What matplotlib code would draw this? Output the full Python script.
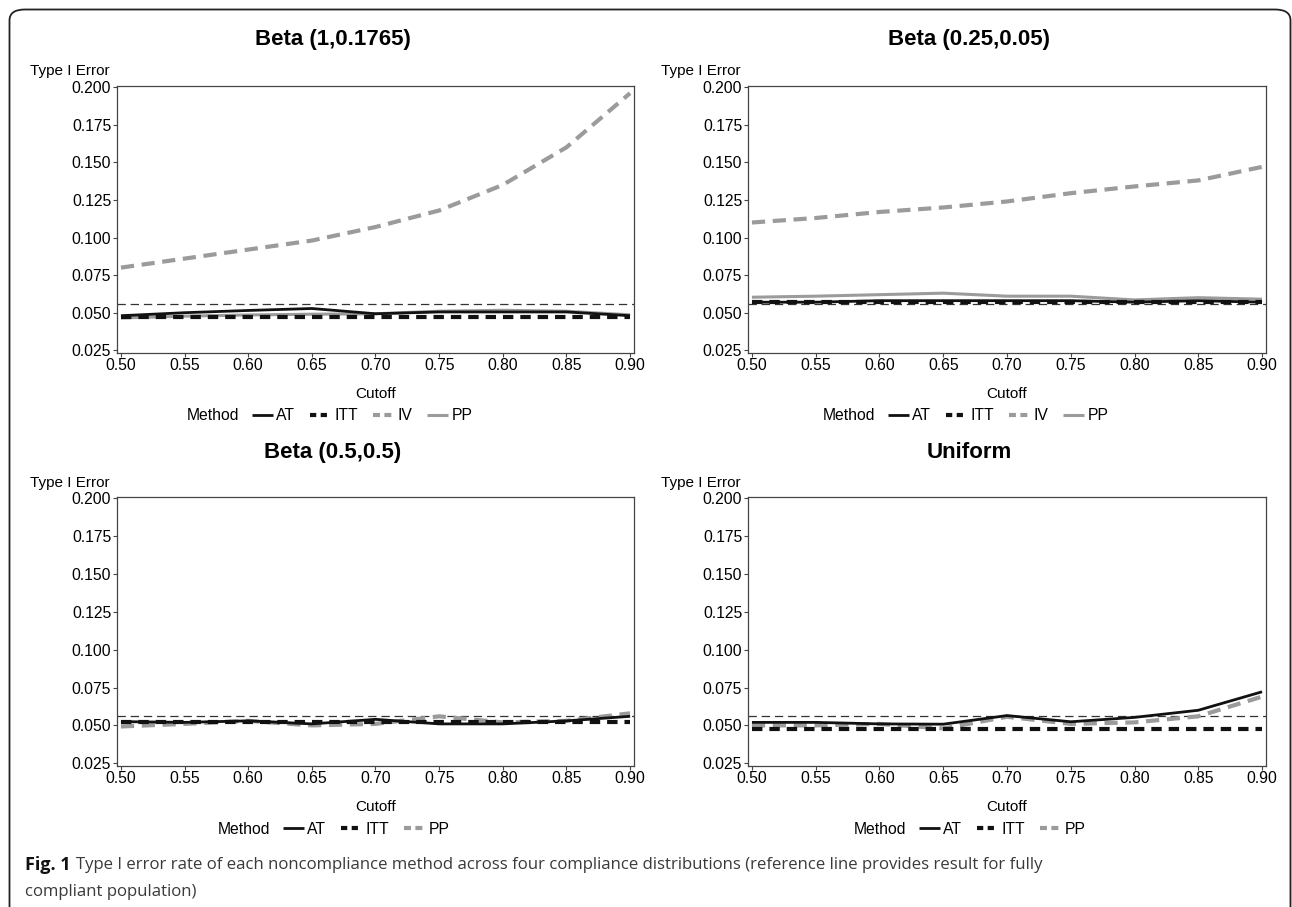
import matplotlib
matplotlib.use("Agg")
import matplotlib.pyplot as plt
from matplotlib.lines import Line2D
from matplotlib.patches import FancyBboxPatch

plt.rcParams['font.family'] = ['Liberation Sans', 'DejaVu Sans']
plt.rcParams['lines.scale_dashes'] = False

W, H = 1292, 907

# data
cutoff = [0.50, 0.55, 0.60, 0.65, 0.70, 0.75, 0.80, 0.85, 0.90]
ref_value = 0.056

# Beta (1,0.1765)
b1_at = [0.048, 0.050, 0.0515, 0.0528, 0.0493, 0.0505, 0.0505, 0.0505, 0.048]
b1_itt = [0.047, 0.047, 0.047, 0.047, 0.047, 0.047, 0.047, 0.047, 0.047]
b1_iv = [0.080, 0.086, 0.092, 0.098, 0.107, 0.118, 0.135, 0.160, 0.196]
b1_pp = [0.0465, 0.0477, 0.0485, 0.049, 0.0493, 0.051, 0.0516, 0.051, 0.0486]

# Beta (0.25,0.05)
b2_at = [0.057, 0.057, 0.058, 0.058, 0.058, 0.058, 0.057, 0.058, 0.057]
b2_itt = [0.0572, 0.0572, 0.0572, 0.0572, 0.0572, 0.0572, 0.0572, 0.0572, 0.0572]
b2_iv = [0.110, 0.113, 0.117, 0.120, 0.124, 0.1295, 0.134, 0.138, 0.147]
b2_pp = [0.0603, 0.061, 0.062, 0.063, 0.061, 0.061, 0.0585, 0.060, 0.059]

# Beta (0.5,0.5)
b3_at = [0.0525, 0.052, 0.053, 0.051, 0.054, 0.051, 0.051, 0.053, 0.056]
b3_itt = [0.052, 0.052, 0.052, 0.052, 0.052, 0.052, 0.052, 0.052, 0.052]
b3_pp = [0.0493, 0.051, 0.053, 0.050, 0.051, 0.056, 0.052, 0.053, 0.058]

# Uniform
u_at = [0.052, 0.052, 0.051, 0.0508, 0.0565, 0.0524, 0.0553, 0.060, 0.0722]
u_itt = [0.0477, 0.0477, 0.0477, 0.0477, 0.0477, 0.0477, 0.0477, 0.0477, 0.0477]
u_pp = [0.050, 0.050, 0.051, 0.048, 0.0557, 0.051, 0.052, 0.056, 0.069]

yticks = [0.025, 0.050, 0.075, 0.100, 0.125, 0.150, 0.175, 0.200]

GREY = '#9b9b9b'
styles = {
    'AT': dict(color='#111111', lw=2.0, ls='-'),
    'ITT': dict(color='#111111', lw=3.0, dashes=(7.5, 5.0)),
    'IV': dict(color=GREY, lw=3.0, dashes=(9.5, 5.5)),
    'PP': dict(color=GREY, lw=2.2, ls='-'),
    'PPd': dict(color=GREY, lw=3.0, dashes=(9.5, 5.5)),
}
# shorter dashes for the legend keys
legend_dashes = {'ITT': (4.5, 3.2), 'IV': (5.0, 3.2), 'PPd': (5.0, 3.2)}

panels = [
    ('Beta (1,0.1765)', [('AT', b1_at, 'AT'), ('ITT', b1_itt, 'ITT'), ('IV', b1_iv, 'IV'), ('PP', b1_pp, 'PP')],
     (117, 86, 634, 353), 333),
    ('Beta (0.25,0.05)', [('AT', b2_at, 'AT'), ('ITT', b2_itt, 'ITT'), ('IV', b2_iv, 'IV'), ('PP', b2_pp, 'PP')],
     (748, 86, 1266, 353), 969),
    ('Beta (0.5,0.5)', [('AT', b3_at, 'AT'), ('ITT', b3_itt, 'ITT'), ('PP', b3_pp, 'PPd')],
     (117, 497, 634, 766), 333),
    ('Uniform', [('AT', u_at, 'AT'), ('ITT', u_itt, 'ITT'), ('PP', u_pp, 'PPd')],
     (748, 497, 1266, 766), 969),
]


def fx(px):
    return px / W


def fy(py):
    return 1 - py / H


fig = plt.figure(figsize=(W / 100, H / 100), dpi=100)

frame = FancyBboxPatch((fx(9.5), fy(925)), fx(1290.5) - fx(9.5), fy(9.5) - fy(925),
                       boxstyle='round,pad=0,rounding_size=0.012',
                       transform=fig.transFigure, fill=False, ec='#222222', lw=1.3)
fig.patches.append(frame)

for title, series, (x0, y0, x1, y1), cx in panels:
    ax = fig.add_axes([fx(x0), fy(y1), fx(x1) - fx(x0), fy(y0) - fy(y1)])
    ax.axhline(ref_value, color='#333333', lw=0.9, dashes=(6, 3.5), zorder=1)
    order = {'AT': 4, 'ITT': 3, 'IV': 2, 'PP': 2, 'PPd': 2}
    for name, vals, st in series:
        ax.plot(cutoff, vals, zorder=order[st], solid_capstyle='butt', dash_capstyle='butt', **styles[st])
    ax.set_xlim(0.4969, 0.9031)
    ax.set_ylim(0.0232, 0.2008)
    ax.set_xticks(cutoff)
    ax.set_xticklabels(['%.2f' % v for v in cutoff])
    ax.set_yticks(yticks)
    ax.set_yticklabels(['%.3f' % v for v in yticks])
    ax.tick_params(labelsize=11.3, length=3, width=0.8, color='#444444', pad=1.2)
    ax.tick_params(axis='x', pad=0.3)
    for sp in ax.spines.values():
        sp.set_color('#444444')
        sp.set_linewidth(0.9)

    axc = (x0 + x1) / 2
    fig.text(fx(cx), fy(40 if y0 < 200 else 452), title, ha='center', va='center',
             fontsize=16, fontweight='bold')
    fig.text(fx(x0 - 87), fy(71 if y0 < 200 else 483), 'Type I Error', ha='left', va='center', fontsize=11)
    fig.text(fx(axc), fy(y1 + 41), 'Cutoff', ha='center', va='center', fontsize=11)

    # legend row: "Method" label then entries
    ly = y1 + 63
    n = len(series)
    lx = cx - (146 if n == 4 else 115)
    fig.text(fx(lx), fy(ly), 'Method', ha='left', va='center', fontsize=11.3)
    handles = []
    for name, vals, st in series:
        kw = dict(styles[st])
        if st in legend_dashes:
            kw['dashes'] = legend_dashes[st]
        handles.append(Line2D([], [], solid_capstyle='butt', dash_capstyle='butt', **kw))
    fig.legend(handles, [s[0] for s in series], loc='center left',
               bbox_to_anchor=(fx(lx + 65), fy(ly)), ncol=n, frameon=False,
               fontsize=11.3, handlelength=1.35, handletextpad=0.2, columnspacing=0.95,
               borderpad=0, borderaxespad=0)

# caption
cap_y1, cap_y2 = 865, 892
t = fig.text(fx(25), fy(cap_y1), 'Fig. 1', ha='left', va='center', fontsize=13,
             fontweight='bold', family=['Open Sans', 'DejaVu Sans'], color='#111111')
fig.canvas.draw()
bb = t.get_window_extent()
fig.text(fx(bb.x1 + 5), fy(cap_y1),
         'Type I error rate of each noncompliance method across four compliance distributions (reference line provides result for fully',
         ha='left', va='center', fontsize=12.1, family=['Open Sans', 'DejaVu Sans'], color='#3a3a3a')
fig.text(fx(25), fy(cap_y2), 'compliant population)', ha='left', va='center', fontsize=12.1,
         family=['Open Sans', 'DejaVu Sans'], color='#3a3a3a')

fig.savefig('out.png', dpi=100)
